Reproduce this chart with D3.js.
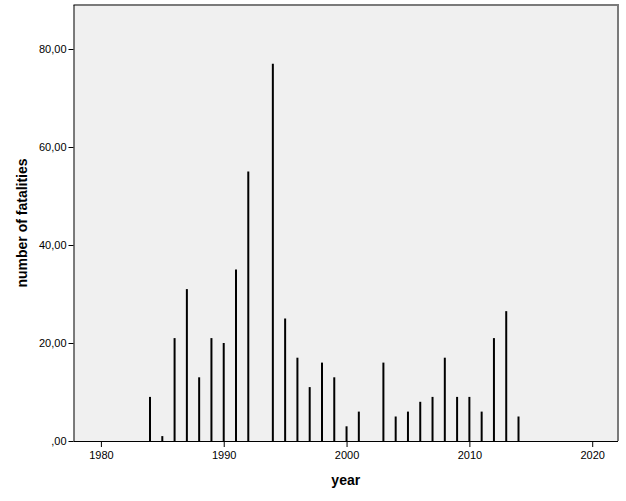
<!DOCTYPE html>
<html>
<head>
<meta charset="utf-8">
<script src="https://cdn.jsdelivr.net/npm/d3@7/dist/d3.min.js"></script>
<style>
  html, body { margin: 0; padding: 0; background: #fff; }
  svg { display: block; }
  text { font-family: "Liberation Sans", Arial, sans-serif; }
</style>
</head>
<body>
<svg id="chart" width="626" height="501"></svg>
<script>
// Data
const years = [1984, 1985, 1986, 1987, 1988, 1989, 1990, 1991, 1992, 1994, 1995, 1996, 1997, 1998, 1999, 2000, 2001, 2003, 2004, 2005, 2006, 2007, 2008, 2009, 2010, 2011, 2012, 2013, 2014];
const fatalities = [9, 1, 21, 31, 13, 21, 20, 35, 55, 77, 25, 17, 11, 16, 13, 3, 6, 16, 5, 6, 8, 9, 17, 9, 9, 6, 21, 26.5, 5];
const xTicks = [1980, 1990, 2000, 2010, 2020];
const yTicks = [0, 20, 40, 60, 80];

const svg = d3.select("#chart");
const mLeft = 73.5, mRight = 618, mTop = 5, mBottom = 441;

const x = d3.scaleLinear().domain([1977.77, 2022.1]).range([mLeft, mRight]);
const y = d3.scaleLinear().domain([0, 88.98]).range([mBottom, mTop]);

// plot background
svg.append("rect")
  .attr("x", mLeft).attr("y", mTop)
  .attr("width", mRight - mLeft).attr("height", mBottom - mTop)
  .attr("fill", "#f0f0f0");

// frame (top/right)
svg.append("path")
  .attr("d", `M${mLeft},${mTop}H${mRight}V${mBottom}`)
  .attr("fill", "none").attr("stroke", "#7a7a7a").attr("stroke-width", 2);

// spikes
svg.append("g").selectAll("line")
  .data(years.map((d, i) => ({ year: d, v: fatalities[i] })))
  .join("line")
  .attr("x1", d => x(d.year)).attr("x2", d => x(d.year))
  .attr("y1", y(0)).attr("y2", d => y(d.v))
  .attr("stroke", "#000").attr("stroke-width", 2);

// Axes
const fmt = d => d === 0 ? ",00" : d.toFixed(2).replace(".", ",");
const yAxis = d3.axisLeft(y).tickValues(yTicks).tickSize(5).tickPadding(2).tickFormat(fmt);
const gy = svg.append("g").attr("transform", `translate(${mLeft},0)`).call(yAxis);
gy.select(".domain").attr("stroke", "#000").attr("d", `M0.5,${mTop}V${mBottom}`);
gy.selectAll(".tick line").attr("stroke", "#000");
gy.selectAll("text").attr("font-size", 11).attr("fill", "#000")
  .attr("font-family", "'Liberation Sans', Arial, sans-serif");

const xAxis = d3.axisBottom(x).tickValues(xTicks).tickSize(6).tickPadding(4).tickFormat(d3.format("d"));
const gx = svg.append("g").attr("transform", `translate(0,${mBottom})`).call(xAxis);
gx.select(".domain").attr("stroke", "#000").attr("d", `M${mLeft},0.5H${mRight}`);
gx.selectAll(".tick line").attr("stroke", "#000");
gx.selectAll("text").attr("font-size", 11).attr("fill", "#000")
  .attr("font-family", "'Liberation Sans', Arial, sans-serif");

// titles
svg.append("text")
  .attr("x", (mLeft + mRight) / 2).attr("y", 485)
  .attr("text-anchor", "middle").attr("font-weight", "bold").attr("font-size", 14)
  .text("year");

svg.append("text")
  .attr("transform", `translate(27,${(mTop + mBottom) / 2}) rotate(-90)`)
  .attr("text-anchor", "middle").attr("font-weight", "bold").attr("font-size", 14)
  .text("number of fatalities");
</script>
</body>
</html>
